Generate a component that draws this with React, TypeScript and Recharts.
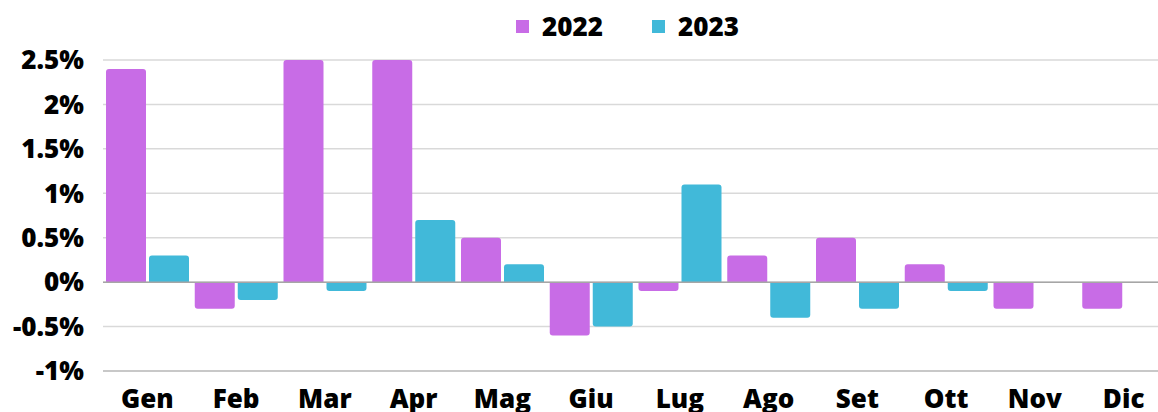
import { BarChart, Bar, XAxis, YAxis, CartesianGrid, ReferenceLine } from 'recharts';

const months = ['Gen', 'Feb', 'Mar', 'Apr', 'Mag', 'Giu', 'Lug', 'Ago', 'Set', 'Ott', 'Nov', 'Dic'];
const values2022 = [2.4, -0.3, 2.5, 2.5, 0.5, -0.6, -0.1, 0.3, 0.5, 0.2, -0.3, -0.3];
const values2023 = [0.3, -0.2, -0.1, 0.7, 0.2, -0.5, 1.1, -0.4, -0.3, -0.1, 0, 0];
const yTicks = [-1, -0.5, 0, 0.5, 1, 1.5, 2, 2.5];

const PURPLE = '#c86ce6';
const CYAN = '#41b9d9';
const FONT = '"Open Sans", sans-serif';

const data = months.map((m, i) => ({ month: m, y2022: values2022[i], y2023: values2023[i] }));

const fmt = (v: number) => `${v}%`;

export default function App() {
  const legendItems = [
    { label: '2022', color: PURPLE },
    { label: '2023', color: CYAN },
  ];

  return (
    <div style={{ position: 'absolute', left: 0, top: 0, width: 1158, height: 412, overflow: 'hidden', background: '#fff' }}>
      {/* legend drawn on top of the chart */}
      <div
        style={{
          position: 'absolute',
          top: 8,
          left: 516,
          display: 'flex',
          alignItems: 'center',
          fontFamily: FONT,
          fontWeight: 800,
          fontSize: 26,
          lineHeight: '36px',
          color: '#000',
        }}
      >
        {legendItems.map((it, i) => (
          <div key={it.label} style={{ display: 'flex', alignItems: 'center', marginRight: i === 0 ? 49 : 0 }}>
            <span style={{ width: 13, height: 13, background: it.color, display: 'inline-block', marginRight: 13 }} />
            <span>{it.label}</span>
          </div>
        ))}
      </div>
      <BarChart
        width={1168}
        height={412}
        data={data}
        margin={{ top: 60, right: 0, left: 0, bottom: 0 }}
        barCategoryGap={3}
        barGap={3}
      >
        <CartesianGrid vertical={false} stroke="#d9d9d9" strokeWidth={1.5} />
        <XAxis
          dataKey="month"
          axisLine={false}
          tickLine={false}
          tickSize={0}
          tickMargin={19}
          height={41}
          interval={0}
          tick={{ fill: '#000', fontSize: 26, fontWeight: 800, fontFamily: FONT }}
        />
        <YAxis
          domain={[-1, 2.5]}
          ticks={yTicks}
          tickFormatter={fmt}
          axisLine={false}
          tickLine={false}
          tickSize={0}
          tickMargin={19}
          width={103}
          interval={0}
          tick={{ fill: '#000', fontSize: 26, fontWeight: 800, fontFamily: FONT }}
        />
        <ReferenceLine y={0} stroke="#a6a6a6" strokeWidth={1.5} />
        <ReferenceLine y={-1} stroke="#bfbfbf" strokeWidth={1.5} />
        <Bar dataKey="y2022" fill={PURPLE} radius={[3, 3, 0, 0]} isAnimationActive={false} />
        <Bar dataKey="y2023" fill={CYAN} radius={[3, 3, 0, 0]} isAnimationActive={false} />
      </BarChart>
    </div>
  );
}
